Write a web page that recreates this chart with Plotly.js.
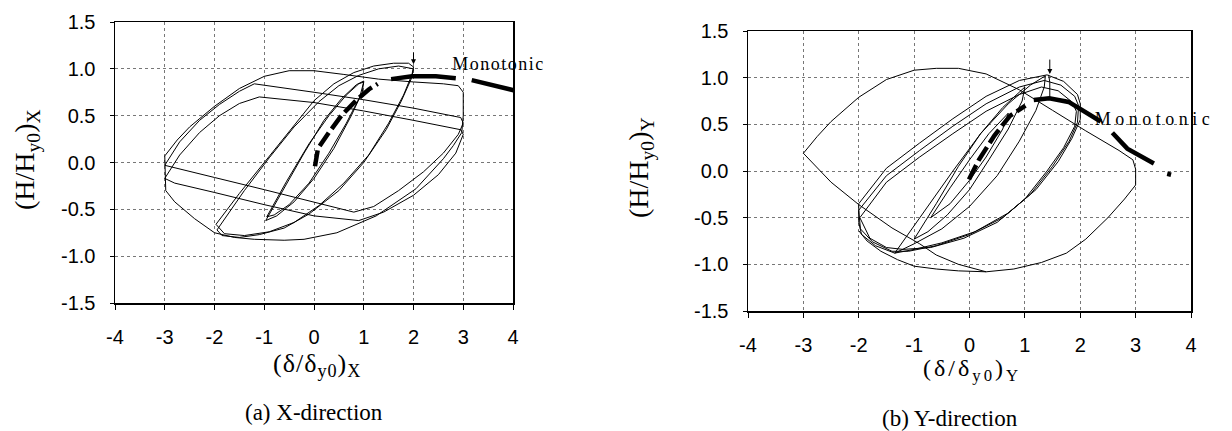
<!DOCTYPE html>
<html>
<head>
<meta charset="utf-8">
<script src="https://cdn.plot.ly/plotly-3.0.1.min.js"></script>
<style>
html,body{margin:0;padding:0;background:#fff;}
#chart{width:1232px;height:431px;}
g.annotation[data-index="0"] text{letter-spacing:1.5px;}
g.annotation[data-index="1"] text{letter-spacing:4.5px;}
g.annotation[data-index="5"] text{letter-spacing:1px;}
g.annotation[data-index="8"] text{letter-spacing:3px;}
</style>
</head>
<body>
<div id="chart"></div>
<script>
// ---------- (a) X-direction ----------
const xdirLoop1a_x = [-0.97,-0.6,-0.2,0.2,0.55,0.85,1.0,0.97,0.75,0.4,0.0,-0.4,-0.75,-0.97];
const xdirLoop1a_y = [-0.62,-0.27,0.1,0.45,0.68,0.83,0.87,0.75,0.5,0.15,-0.17,-0.42,-0.57,-0.62];
const xdirLoop1b_x = [-0.95,-0.55,-0.1,0.3,0.65,0.9,1.0,0.92,0.65,0.3,-0.1,-0.5,-0.8,-0.95];
const xdirLoop1b_y = [-0.58,-0.2,0.2,0.5,0.72,0.84,0.86,0.7,0.42,0.1,-0.22,-0.45,-0.56,-0.58];
const xdirLoop2a_x = [-1.97,-1.5,-1.0,-0.5,0.0,0.4,0.8,1.2,1.6,1.9,2.0,1.97,1.8,1.5,1.1,0.6,0.1,-0.4,-0.9,-1.4,-1.8,-1.97];
const xdirLoop2a_y = [-0.66,-0.33,0.0,0.33,0.66,0.84,0.96,1.03,1.06,1.06,1.02,0.94,0.72,0.42,0.08,-0.22,-0.46,-0.64,-0.74,-0.78,-0.76,-0.66];
const xdirLoop2b_x = [-1.95,-1.4,-0.9,-0.4,0.1,0.5,0.9,1.3,1.7,2.0,1.96,1.75,1.45,1.0,0.5,-0.1,-0.6,-1.1,-1.5,-1.85,-1.95];
const xdirLoop2b_y = [-0.72,-0.3,0.05,0.38,0.65,0.82,0.93,1.0,1.03,1.0,0.9,0.65,0.35,0.0,-0.3,-0.55,-0.7,-0.77,-0.8,-0.78,-0.72];
const xdirLoop3a_x = [-3.0,-2.75,-2.5,-2.0,-1.5,-1.0,-0.5,0.0,0.6,1.3,2.0,2.6,2.9,3.0,3.0,2.97,2.8,2.6,2.05,1.25,0.46,-0.2,-0.6,-1.2,-1.6,-2.0,-2.4,-2.8,-2.98,-3.0];
const xdirLoop3a_y = [0.07,0.24,0.38,0.6,0.79,0.92,0.98,0.98,0.94,0.89,0.86,0.84,0.82,0.75,0.5,0.32,0.18,0.04,-0.28,-0.57,-0.75,-0.82,-0.83,-0.82,-0.8,-0.75,-0.6,-0.42,-0.3,0.07];
const xdirLoop3b_x = [-3.0,-2.7,-2.3,-1.9,-1.5,-1.2,0.0,1.0,2.0,2.7,2.95,3.0,2.9,2.6,2.2,1.7,1.2,0.8,0.0,-1.0,-2.0,-2.7,-3.0];
const xdirLoop3b_y = [-0.03,0.22,0.45,0.62,0.76,0.84,0.75,0.67,0.58,0.51,0.48,0.42,0.3,0.1,-0.1,-0.3,-0.47,-0.53,-0.42,-0.29,-0.16,-0.07,-0.03];
const xdirLoop3c_x = [-3.0,-2.7,-2.3,-1.9,-1.5,-1.1,0.0,1.0,2.0,2.7,2.95,3.0,2.85,2.5,2.0,1.4,0.9,0.0,-1.0,-2.0,-2.8,-3.0];
const xdirLoop3c_y = [-0.17,0.08,0.32,0.5,0.63,0.7,0.64,0.55,0.45,0.38,0.35,0.3,0.1,-0.13,-0.35,-0.53,-0.62,-0.57,-0.45,-0.32,-0.22,-0.17];
// monotonic curve: initial (dashed) part and later (solid) parts
const xdirMonoA_x = [0.02,0.08,0.3,0.55,0.86,1.1,1.28];
const xdirMonoA_y = [-0.04,0.15,0.32,0.5,0.67,0.78,0.84];
const xdirMonoB_x = [1.55,1.97,2.45,2.85,null,3.17,3.64,4.02];
const xdirMonoB_y = [0.89,0.92,0.92,0.9,null,0.88,0.82,0.77];

// ---------- (b) Y-direction ----------
const ydirLoopBig_x = [-3.0,-2.75,-2.5,-2.0,-1.5,-1.0,-0.6,-0.2,0.3,0.9,1.5,2.1,2.7,2.95,3.0,3.0,2.8,2.5,2.1,1.75,1.3,0.8,0.3,-0.2,-0.6,-0.9,-1.4,-2.0,-2.5,-3.0];
const ydirLoopBig_y = [0.19,0.37,0.53,0.79,0.98,1.08,1.1,1.1,1.04,0.87,0.65,0.43,0.22,0.12,0.02,-0.15,-0.3,-0.5,-0.73,-0.88,-0.98,-1.05,-1.08,-1.0,-0.9,-0.78,-0.61,-0.36,-0.12,0.19];
const ydirArcLow_x = [0.3,-0.2,-0.6,-1.0,-1.3,-1.6,-1.85,-2.0];
const ydirArcLow_y = [-1.08,-1.07,-1.05,-1.02,-0.95,-0.86,-0.75,-0.64];
const ydirDrop_x = [1.43,1.45,1.45];
const ydirDrop_y = [1.03,0.95,0.78];
const ydirLoop2a_x = [-2.0,-1.5,-0.9,-0.3,0.3,0.9,1.4,1.7,1.95,2.0,2.0,1.85,1.6,1.2,0.7,0.1,-0.5,-1.0,-1.35,-1.7,-1.95,-2.0,-2.0];
const ydirLoop2a_y = [-0.35,0.03,0.3,0.56,0.8,0.97,1.03,0.96,0.82,0.72,0.55,0.35,0.1,-0.2,-0.45,-0.65,-0.77,-0.84,-0.88,-0.8,-0.68,-0.55,-0.35];
const ydirLoop2b_x = [-2.0,-1.5,-0.9,-0.3,0.3,0.9,1.35,1.65,1.9,1.97,1.95,1.8,1.5,1.1,0.6,0.0,-0.6,-1.1,-1.4,-1.75,-1.97,-2.0];
const ydirLoop2b_y = [-0.42,-0.05,0.22,0.48,0.72,0.9,0.97,0.92,0.8,0.7,0.52,0.32,0.05,-0.25,-0.5,-0.68,-0.8,-0.86,-0.86,-0.76,-0.62,-0.42];
const ydirLoop2c_x = [-1.98,-1.5,-0.9,-0.3,0.3,0.9,1.3,1.6,1.85,1.93,1.9,1.7,1.4,1.0,0.5,-0.1,-0.7,-1.2,-1.5,-1.8,-1.98];
const ydirLoop2c_y = [-0.5,-0.12,0.15,0.4,0.64,0.82,0.9,0.86,0.74,0.64,0.48,0.25,0.0,-0.3,-0.55,-0.72,-0.82,-0.84,-0.82,-0.72,-0.5];
const ydirLoop1a_x = [-1.35,-0.8,-0.3,0.2,0.7,1.1,1.37,1.35,1.2,0.9,0.5,0.0,-0.5,-1.0,-1.35];
const ydirLoop1a_y = [-0.88,-0.42,0.0,0.4,0.72,0.92,1.02,0.9,0.65,0.32,-0.05,-0.38,-0.62,-0.78,-0.88];
const ydirLoop1b_x = [-1.0,-0.6,-0.2,0.2,0.6,1.0,0.95,0.7,0.35,0.0,-0.4,-0.75,-1.0];
const ydirLoop1b_y = [-0.73,-0.35,0.05,0.4,0.68,0.9,0.75,0.45,0.12,-0.2,-0.47,-0.65,-0.73];
const ydirLoop1c_x = [-0.7,-0.35,0.0,0.35,0.7,0.6,0.3,0.0,-0.35,-0.7];
const ydirLoop1c_y = [-0.5,-0.18,0.12,0.4,0.62,0.45,0.15,-0.1,-0.35,-0.5];
const ydirMonoA_x = [-0.01,0.17,0.45,0.73,1.01];
const ydirMonoA_y = [-0.09,0.12,0.38,0.59,0.7];
const ydirMonoB_x = [1.16,1.44,1.79,2.14,2.37,null,2.58,2.85,3.33,null,3.57,3.64];
const ydirMonoB_y = [0.76,0.78,0.74,0.62,0.53,null,0.41,0.24,0.08,null,-0.03,-0.04];

// tick values and labels
const xTickVals = [-4,-3,-2,-1,0,1,2,3,4];
const xTickText = ['-4','-3','-2','-1','0','1','2','3','4'];
const yTickVals = [-1.5,-1.0,-0.5,0.0,0.5,1.0,1.5];
const yTickText = ['-1.5','-1.0','-0.5','0.0','0.5','1.0','1.5'];

const thin = {color:'#000', width:1};
function loop(x, y, xa, ya){ return {x:x, y:y, xaxis:xa, yaxis:ya, mode:'lines', line:thin, hoverinfo:'skip', showlegend:false}; }
function mono(x, y, xa, ya, dash){ return {x:x, y:y, xaxis:xa, yaxis:ya, mode:'lines', line:{color:'#000', width:4.5, dash:dash}, connectgaps:false, hoverinfo:'skip', showlegend:false}; }

const traces = [
  loop(xdirLoop3a_x, xdirLoop3a_y,'x','y'),
  loop(xdirLoop3b_x, xdirLoop3b_y,'x','y'),
  loop(xdirLoop3c_x, xdirLoop3c_y,'x','y'),
  loop(xdirLoop2a_x, xdirLoop2a_y,'x','y'),
  loop(xdirLoop2b_x, xdirLoop2b_y,'x','y'),
  loop(xdirLoop1a_x, xdirLoop1a_y,'x','y'),
  loop(xdirLoop1b_x, xdirLoop1b_y,'x','y'),
  mono(xdirMonoA_x, xdirMonoA_y,'x','y','16px,5px'),
  mono(xdirMonoB_x, xdirMonoB_y,'x','y','solid'),
  loop(ydirLoopBig_x, ydirLoopBig_y,'x2','y2'),
  loop(ydirArcLow_x, ydirArcLow_y,'x2','y2'),
  loop(ydirDrop_x, ydirDrop_y,'x2','y2'),
  loop(ydirLoop2a_x, ydirLoop2a_y,'x2','y2'),
  loop(ydirLoop2b_x, ydirLoop2b_y,'x2','y2'),
  loop(ydirLoop2c_x, ydirLoop2c_y,'x2','y2'),
  loop(ydirLoop1a_x, ydirLoop1a_y,'x2','y2'),
  loop(ydirLoop1b_x, ydirLoop1b_y,'x2','y2'),
  loop(ydirLoop1c_x, ydirLoop1c_y,'x2','y2'),
  mono(ydirMonoA_x, ydirMonoA_y,'x2','y2','16px,5px'),
  mono(ydirMonoB_x, ydirMonoB_y,'x2','y2','solid')
];

const tickFont = {family:'"Liberation Sans", Arial, sans-serif', size:20, color:'#000'};
const serif = '"Liberation Serif", "Times New Roman", serif';
function xax(domain, anchor){ return {domain:domain, anchor:anchor, range:[-4,4], tickvals:xTickVals, ticktext:xTickText, ticks:'outside', ticklen:5, tickcolor:'#000',
  showline:true, linecolor:'#000', linewidth:1.5, mirror:true, showgrid:true, gridcolor:'#777', griddash:'dot', gridwidth:1,
  zeroline:false, tickfont:tickFont, ticklabelstandoff:10, fixedrange:true}; }
function yax(domain, anchor){ return {domain:domain, anchor:anchor, range:[-1.5,1.5], tickvals:yTickVals, ticktext:yTickText, ticks:'outside', ticklen:4, tickcolor:'#000',
  showline:true, linecolor:'#000', linewidth:1.5, mirror:true, showgrid:true, gridcolor:'#777', griddash:'dot', gridwidth:1,
  zeroline:false, tickfont:tickFont, ticklabelstandoff:10, fixedrange:true}; }

const W = 1232, H = 431;
function pa(text, px, py, size, extra){ return Object.assign({text:text, xref:'paper', yref:'paper', x:px/W, y:(H-py)/H, xanchor:'center', yanchor:'middle', showarrow:false, font:{family:serif, size:size, color:'#000'}}, extra||{}); }
const layout = {
  width:W, height:H, margin:{l:0,r:0,t:0,b:0}, paper_bgcolor:'#fff', plot_bgcolor:'#fff', showlegend:false,
  xaxis: xax([115/W, 513/W], 'y'),
  yaxis: yax([(H-303)/H, (H-22)/H], 'x'),
  xaxis2: xax([748/W, 1191/W], 'y2'),
  yaxis2: yax([(H-311)/H, (H-31)/H], 'x2'),
  annotations:[
    pa('Monotonic', 457, 64, 18, {xanchor:'left'}),
    pa('Monotonic', 1113, 119, 18, {xanchor:'left'}),
    {text:'', x:2.0, y:1.05, ax:2.0, ay:1.19, xref:'x', yref:'y', axref:'x', ayref:'y', showarrow:true, arrowhead:2, arrowsize:1, arrowwidth:1, arrowcolor:'#000'},
    {text:'', x:1.45, y:1.04, ax:1.45, ay:1.21, xref:'x2', yref:'y2', axref:'x2', ayref:'y2', showarrow:true, arrowhead:2, arrowsize:1, arrowwidth:1, arrowcolor:'#000'},
    pa('(H/H<sub>y0</sub>)<sub>X</sub>', 26, 160, 28, {textangle:-90}),
    pa('(δ/δ<sub>y0</sub>)<sub>X</sub>', 317, 365, 26),
    pa('(a) X-direction', 314, 412, 23),
    pa('(H/H<sub>y0</sub>)<sub>Y</sub>', 640, 167, 28, {textangle:-90}),
    pa('(δ/δ<sub>y0</sub>)<sub>Y</sub>', 972, 370, 24),
    pa('(b) Y-direction', 950, 418, 23)
  ]
};

Plotly.newPlot('chart', traces, layout, {staticPlot:true, displayModeBar:false});
</script>
</body>
</html>
